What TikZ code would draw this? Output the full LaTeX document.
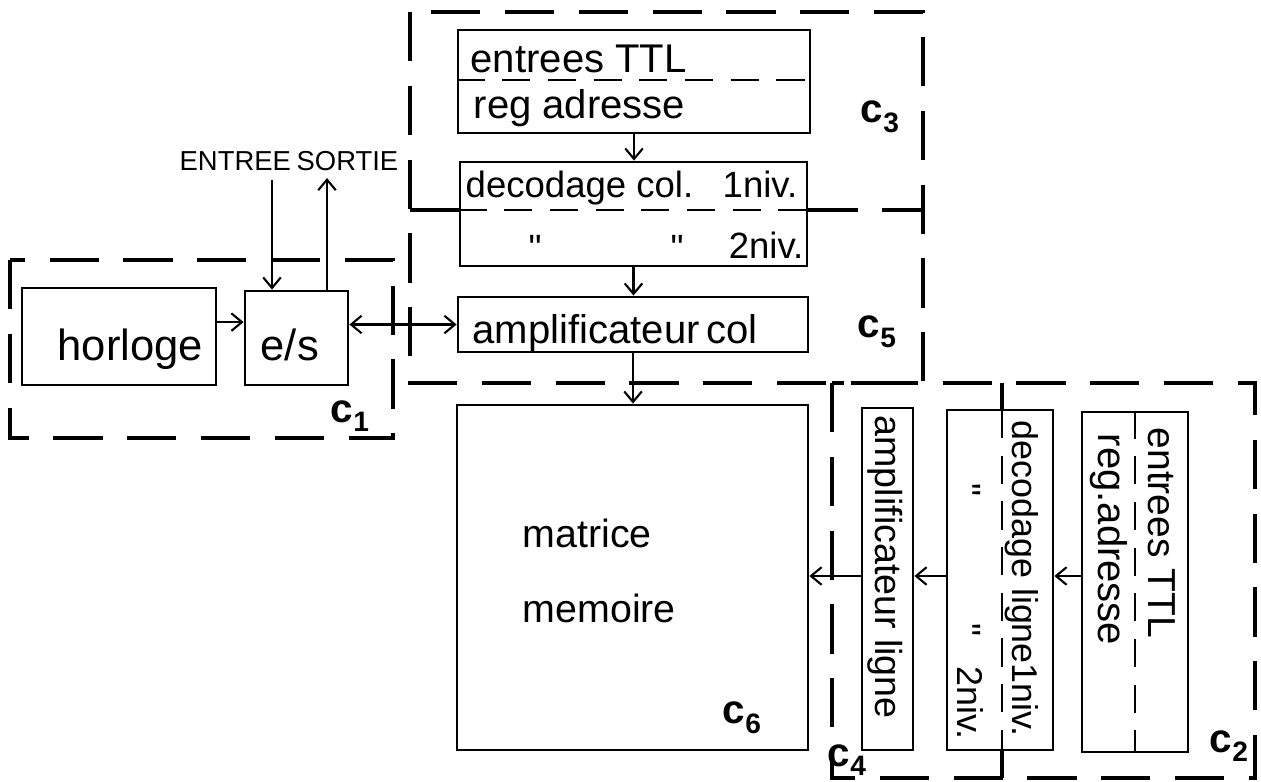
\documentclass[tikz,border=0pt]{standalone}
\usepackage{fontspec}
\setmainfont{Liberation Sans}
\usetikzlibrary{arrows.meta}

\newcommand{\zlab}[1]{\bfseries c\raisebox{-0.45ex}{\fontsize{8}{9}\selectfont #1}}

\begin{document}
\begin{tikzpicture}[scale=1.0,
    blk/.style={draw, thick, inner sep=0pt},
    txt/.style={inner sep=0pt, font=\fontsize{11.4}{13}\selectfont},
    small/.style={inner sep=0pt, font=\fontsize{10.4}{12}\selectfont},
    big/.style={inner sep=0pt, font=\fontsize{12.4}{14}\selectfont},
    zlbl/.style={inner sep=0pt, font=\fontsize{11.5}{13}\selectfont},
    zone/.style={line width=1pt, dash pattern=on 14pt off 7pt},
    cut/.style={thick, dash pattern=on 8pt off 5pt},
    fl/.style={semithick},
    >={Straight Barb[length=3pt,width=5pt]}]
            \useasboundingbox (0,0) rectangle (12.61,-7.82);

            % Zones
            \draw[zone] (0.10,-2.60) rectangle (3.93,-4.38);
            \draw[zone] (4.10,-0.12) rectangle (9.23,-3.83);
            \draw[zone] (8.32,-3.83) rectangle (12.55,-7.78);

            % Clock and I/O
            \node[blk, minimum width=1.94cm, minimum height=0.97cm] (horl) at (1.19,-3.365) {};
            \node[blk, minimum width=1.03cm, minimum height=0.94cm] (es) at (2.965,-3.38) {};
            \node[big, anchor=base west] (thorl) at (0.57,-3.60) {horloge};
            \node[big, anchor=base west] (tes) at (2.60,-3.60) {e/s};
            \node[inner sep=0pt, font=\fontsize{7.8}{9}\selectfont, anchor=base west] (tent) at (1.79,-1.70) {ENTREE};
            \node[inner sep=0pt, font=\fontsize{7.8}{9}\selectfont, anchor=base west] (tsor) at (2.96,-1.70) {SORTIE};
            \coordinate (ein) at (2.72,-1.80);
            \coordinate (sout) at (3.27,-1.78);

            % Column path
            \node[blk, minimum width=3.52cm, minimum height=1.03cm] (ttlc) at (6.34,-0.815) {};
            \node[blk, minimum width=3.47cm, minimum height=1.04cm] (dcol) at (6.335,-2.14) {};
            \node[blk, minimum width=3.50cm, minimum height=0.55cm] (ampc) at (6.33,-3.245) {};
            \draw[cut] (ttlc.west |- 0,-0.80) -- (ttlc.east |- 0,-0.80);
            \draw[zone] (4.10,-2.10) -- (dcol.west |- 0,-2.10);
            \draw[cut] (dcol.west |- 0,-2.10) -- (dcol.east |- 0,-2.10);
            \draw[zone] (dcol.east |- 0,-2.10) -- (9.23,-2.10);
            \node[txt, anchor=base west] (tttl) at (4.70,-0.72) {entrees TTL};
            \node[txt, anchor=base west] (treg) at (4.73,-1.18) {reg adresse};
            \node[small, anchor=base west] (tdc1) at (4.65,-1.97) {decodage col.};
            \node[small, anchor=base west] (tniv1) at (7.22,-1.97) {1niv.};
            \node[small] (tdit1) at (5.35,-2.48) {\textquotedbl};
            \node[small] (tdit2) at (6.77,-2.48) {\textquotedbl};
            \node[small, anchor=base east] (tniv2) at (8.04,-2.58) {2niv.};
            \node[txt, anchor=base west] (tampc) at (4.72,-3.43) {amplificateur\,col};

            % Memory array
            \node[blk, minimum width=3.51cm, minimum height=3.45cm] (mat) at (6.325,-5.775) {};
            \node[txt, font=\fontsize{11.2}{13}\selectfont, anchor=base west] (tmat) at (5.22,-5.47) {matrice};
            \node[txt, font=\fontsize{11.2}{13}\selectfont, anchor=base west] (tmem) at (5.22,-6.22) {memoire};

            % Row path
            \node[blk, minimum width=0.51cm, minimum height=3.42cm] (ampl) at (8.875,-5.79) {};
            \node[blk, minimum width=1.06cm, minimum height=3.40cm] (decl) at (10.00,-5.80) {};
            \node[blk, minimum width=1.06cm, minimum height=3.40cm] (ttlr) at (11.35,-5.82) {};
            \draw[zone] (10.02,-3.83) -- (10.02,-4.10);
            \draw[cut] (10.02,-4.10) -- (10.02,-7.50);
            \draw[zone] (10.02,-7.50) -- (10.02,-7.78);
            \draw[cut] (ttlr.north) -- (ttlr.south);
            \node[small, font=\fontsize{10.7}{12}\selectfont, rotate=-90, anchor=base west] (tampl) at (8.75,-4.15) {amplificateur ligne};
            \node[small, font=\fontsize{10.2}{12}\selectfont, rotate=-90, anchor=base west] (tdl1) at (10.12,-4.20) {decodage ligne1niv.};
            \node[small, rotate=-90] (tdit3) at (9.68,-4.90) {\textquotedbl};
            \node[small, rotate=-90] (tdit4) at (9.68,-6.30) {\textquotedbl};
            \node[small, font=\fontsize{10.2}{12}\selectfont, rotate=-90, anchor=base east] (tdl2) at (9.57,-7.40) {2niv.};
            \node[txt, font=\fontsize{11.1}{13}\selectfont, rotate=-90, anchor=base west] (tttlr) at (11.48,-4.27) {entrees TTL};
            \node[txt, rotate=-90, anchor=base west] (tregr) at (10.98,-4.33) {reg.adresse};
            \coordinate (row) at (12.0,-5.76);

            % Zone labels
            \node[zlbl] (lc1) at (3.50,-4.16) {\zlab{1}};
            \node[zlbl] (lc2) at (12.29,-7.46) {\zlab{2}};
            \node[zlbl] (lc3) at (8.80,-1.17) {\zlab{3}};
            \node[zlbl] (lc4) at (8.47,-7.60) {\zlab{4}};
            \node[zlbl] (lc5) at (8.77,-3.32) {\zlab{5}};
            \node[zlbl] (lc6) at (7.42,-7.18) {\zlab{6}};

            % Links
            \draw[fl, ->] ([yshift=4.1pt]horl.east) -- ([yshift=4.1pt]horl.east -| es.west);
            \draw[fl, ->] (ein) -- (ein |- es.north);
            \draw[fl, ->] (sout |- es.north) -- (sout);
            \draw[fl, <->] (es.east |- ampc.west) -- (ampc.west);
            \draw[fl, ->] (ttlc.south) -- (ttlc.south |- dcol.north);
            \draw[fl, ->] (dcol.south) -- (dcol.south |- ampc.north);
            \draw[fl, ->] (ampc.south) -- (ampc.south |- mat.north);
            \draw[fl, ->] (ttlr.west |- row) -- (decl.east |- row);
            \draw[fl, ->] (decl.west |- row) -- (ampl.east |- row);
            \draw[fl, ->] (ampl.west |- row) -- (mat.east |- row);
        \end{tikzpicture}
\end{document}
